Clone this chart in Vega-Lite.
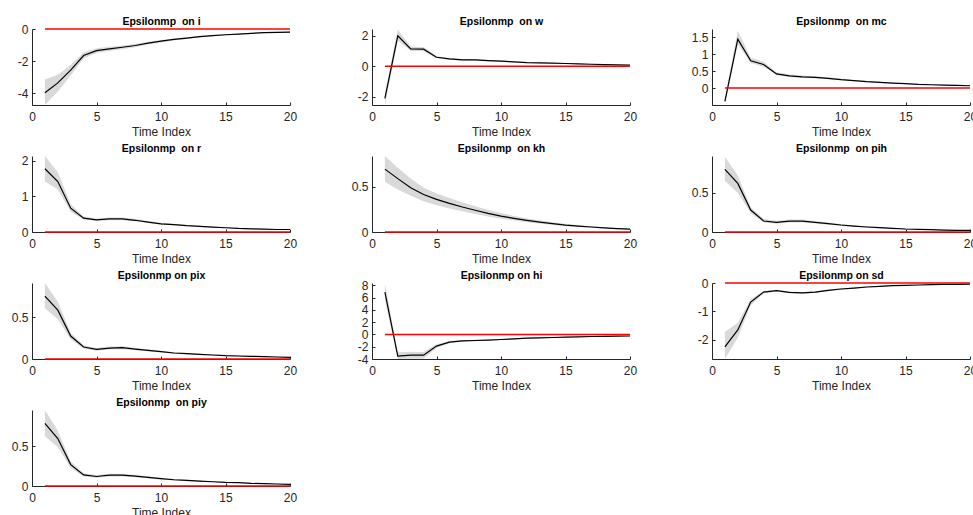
{
  "$schema": "https://vega.github.io/schema/vega-lite/v6.json",
  "padding": {"left": 11, "top": 16, "right": 0, "bottom": 0},
  "background": "white",
  "datasets": {
    "i": [
      {"t": 1, "m": -3.98, "lo": -4.75, "hi": -3.15}, {"t": 2, "m": -3.37, "lo": -3.9, "hi": -2.86},
      {"t": 3, "m": -2.57, "lo": -2.9, "hi": -2.25}, {"t": 4, "m": -1.66, "lo": -1.85, "hi": -1.45},
      {"t": 5, "m": -1.35, "lo": -1.5, "hi": -1.2}, {"t": 6, "m": -1.24, "lo": -1.37, "hi": -1.11},
      {"t": 7, "m": -1.14, "lo": -1.26, "hi": -1.03}, {"t": 8, "m": -1.03, "lo": -1.14, "hi": -0.93},
      {"t": 9, "m": -0.88, "lo": -0.97, "hi": -0.8}, {"t": 10, "m": -0.76, "lo": -0.84, "hi": -0.69},
      {"t": 11, "m": -0.65, "lo": -0.72, "hi": -0.59}, {"t": 12, "m": -0.57, "lo": -0.63, "hi": -0.52},
      {"t": 13, "m": -0.48, "lo": -0.53, "hi": -0.44}, {"t": 14, "m": -0.42, "lo": -0.46, "hi": -0.38},
      {"t": 15, "m": -0.36, "lo": -0.4, "hi": -0.33}, {"t": 16, "m": -0.32, "lo": -0.35, "hi": -0.29},
      {"t": 17, "m": -0.27, "lo": -0.3, "hi": -0.25}, {"t": 18, "m": -0.23, "lo": -0.25, "hi": -0.21},
      {"t": 19, "m": -0.21, "lo": -0.23, "hi": -0.19}, {"t": 20, "m": -0.19, "lo": -0.21, "hi": -0.17}
    ],
    "w": [
      {"t": 1, "m": -2.11, "lo": -2.55, "hi": -1.8}, {"t": 2, "m": 2.0, "lo": 1.7, "hi": 2.42},
      {"t": 3, "m": 1.14, "lo": 1.0, "hi": 1.3}, {"t": 4, "m": 1.12, "lo": 0.98, "hi": 1.27},
      {"t": 5, "m": 0.59, "lo": 0.52, "hi": 0.67}, {"t": 6, "m": 0.48, "lo": 0.43, "hi": 0.54},
      {"t": 7, "m": 0.42, "lo": 0.37, "hi": 0.47}, {"t": 8, "m": 0.42, "lo": 0.37, "hi": 0.47},
      {"t": 9, "m": 0.37, "lo": 0.33, "hi": 0.41}, {"t": 10, "m": 0.33, "lo": 0.29, "hi": 0.37},
      {"t": 11, "m": 0.29, "lo": 0.26, "hi": 0.32}, {"t": 12, "m": 0.24, "lo": 0.21, "hi": 0.27},
      {"t": 13, "m": 0.22, "lo": 0.2, "hi": 0.24}, {"t": 14, "m": 0.2, "lo": 0.18, "hi": 0.22},
      {"t": 15, "m": 0.18, "lo": 0.16, "hi": 0.2}, {"t": 16, "m": 0.15, "lo": 0.13, "hi": 0.17},
      {"t": 17, "m": 0.13, "lo": 0.115, "hi": 0.145}, {"t": 18, "m": 0.11, "lo": 0.1, "hi": 0.12},
      {"t": 19, "m": 0.09, "lo": 0.08, "hi": 0.1}, {"t": 20, "m": 0.07, "lo": 0.06, "hi": 0.08}
    ],
    "mc": [
      {"t": 1, "m": -0.39, "lo": -0.5, "hi": -0.3}, {"t": 2, "m": 1.45, "lo": 1.3, "hi": 1.7},
      {"t": 3, "m": 0.81, "lo": 0.74, "hi": 0.9}, {"t": 4, "m": 0.7, "lo": 0.63, "hi": 0.78},
      {"t": 5, "m": 0.42, "lo": 0.38, "hi": 0.47}, {"t": 6, "m": 0.36, "lo": 0.33, "hi": 0.4},
      {"t": 7, "m": 0.33, "lo": 0.3, "hi": 0.37}, {"t": 8, "m": 0.32, "lo": 0.29, "hi": 0.35},
      {"t": 9, "m": 0.29, "lo": 0.26, "hi": 0.32}, {"t": 10, "m": 0.25, "lo": 0.23, "hi": 0.28},
      {"t": 11, "m": 0.22, "lo": 0.2, "hi": 0.24}, {"t": 12, "m": 0.19, "lo": 0.17, "hi": 0.21},
      {"t": 13, "m": 0.17, "lo": 0.155, "hi": 0.185}, {"t": 14, "m": 0.15, "lo": 0.14, "hi": 0.165},
      {"t": 15, "m": 0.13, "lo": 0.12, "hi": 0.14}, {"t": 16, "m": 0.11, "lo": 0.1, "hi": 0.12},
      {"t": 17, "m": 0.1, "lo": 0.09, "hi": 0.11}, {"t": 18, "m": 0.09, "lo": 0.08, "hi": 0.1},
      {"t": 19, "m": 0.08, "lo": 0.072, "hi": 0.088}, {"t": 20, "m": 0.07, "lo": 0.063, "hi": 0.077}
    ],
    "r": [
      {"t": 1, "m": 1.78, "lo": 1.42, "hi": 2.14}, {"t": 2, "m": 1.42, "lo": 1.2, "hi": 1.68},
      {"t": 3, "m": 0.67, "lo": 0.57, "hi": 0.78}, {"t": 4, "m": 0.39, "lo": 0.35, "hi": 0.44},
      {"t": 5, "m": 0.34, "lo": 0.31, "hi": 0.38}, {"t": 6, "m": 0.37, "lo": 0.33, "hi": 0.41},
      {"t": 7, "m": 0.37, "lo": 0.33, "hi": 0.41}, {"t": 8, "m": 0.33, "lo": 0.3, "hi": 0.37},
      {"t": 9, "m": 0.28, "lo": 0.25, "hi": 0.31}, {"t": 10, "m": 0.23, "lo": 0.21, "hi": 0.26},
      {"t": 11, "m": 0.21, "lo": 0.19, "hi": 0.23}, {"t": 12, "m": 0.18, "lo": 0.165, "hi": 0.2},
      {"t": 13, "m": 0.16, "lo": 0.145, "hi": 0.175}, {"t": 14, "m": 0.14, "lo": 0.13, "hi": 0.155},
      {"t": 15, "m": 0.12, "lo": 0.11, "hi": 0.13}, {"t": 16, "m": 0.1, "lo": 0.09, "hi": 0.11},
      {"t": 17, "m": 0.09, "lo": 0.082, "hi": 0.1}, {"t": 18, "m": 0.08, "lo": 0.073, "hi": 0.088},
      {"t": 19, "m": 0.07, "lo": 0.064, "hi": 0.077}, {"t": 20, "m": 0.07, "lo": 0.063, "hi": 0.077}
    ],
    "kh": [
      {"t": 1, "m": 0.695, "lo": 0.555, "hi": 0.84}, {"t": 2, "m": 0.59, "lo": 0.47, "hi": 0.71},
      {"t": 3, "m": 0.49, "lo": 0.4, "hi": 0.59}, {"t": 4, "m": 0.415, "lo": 0.34, "hi": 0.49},
      {"t": 5, "m": 0.36, "lo": 0.295, "hi": 0.425}, {"t": 6, "m": 0.316, "lo": 0.26, "hi": 0.375},
      {"t": 7, "m": 0.276, "lo": 0.228, "hi": 0.328}, {"t": 8, "m": 0.24, "lo": 0.2, "hi": 0.285},
      {"t": 9, "m": 0.206, "lo": 0.172, "hi": 0.245}, {"t": 10, "m": 0.176, "lo": 0.147, "hi": 0.21},
      {"t": 11, "m": 0.151, "lo": 0.127, "hi": 0.178}, {"t": 12, "m": 0.129, "lo": 0.108, "hi": 0.152},
      {"t": 13, "m": 0.11, "lo": 0.093, "hi": 0.129}, {"t": 14, "m": 0.092, "lo": 0.078, "hi": 0.108},
      {"t": 15, "m": 0.077, "lo": 0.065, "hi": 0.09}, {"t": 16, "m": 0.066, "lo": 0.056, "hi": 0.077},
      {"t": 17, "m": 0.055, "lo": 0.047, "hi": 0.064}, {"t": 18, "m": 0.046, "lo": 0.039, "hi": 0.053},
      {"t": 19, "m": 0.038, "lo": 0.032, "hi": 0.044}, {"t": 20, "m": 0.032, "lo": 0.027, "hi": 0.037}
    ],
    "pih": [
      {"t": 1, "m": 0.8, "lo": 0.65, "hi": 0.96}, {"t": 2, "m": 0.62, "lo": 0.5, "hi": 0.72},
      {"t": 3, "m": 0.28, "lo": 0.24, "hi": 0.32}, {"t": 4, "m": 0.14, "lo": 0.12, "hi": 0.165},
      {"t": 5, "m": 0.123, "lo": 0.105, "hi": 0.142}, {"t": 6, "m": 0.14, "lo": 0.122, "hi": 0.158},
      {"t": 7, "m": 0.14, "lo": 0.122, "hi": 0.158}, {"t": 8, "m": 0.123, "lo": 0.107, "hi": 0.139},
      {"t": 9, "m": 0.106, "lo": 0.092, "hi": 0.12}, {"t": 10, "m": 0.089, "lo": 0.077, "hi": 0.101},
      {"t": 11, "m": 0.076, "lo": 0.066, "hi": 0.086}, {"t": 12, "m": 0.064, "lo": 0.056, "hi": 0.073},
      {"t": 13, "m": 0.055, "lo": 0.048, "hi": 0.063}, {"t": 14, "m": 0.047, "lo": 0.041, "hi": 0.054},
      {"t": 15, "m": 0.038, "lo": 0.033, "hi": 0.044}, {"t": 16, "m": 0.034, "lo": 0.03, "hi": 0.039},
      {"t": 17, "m": 0.03, "lo": 0.026, "hi": 0.034}, {"t": 18, "m": 0.025, "lo": 0.022, "hi": 0.029},
      {"t": 19, "m": 0.021, "lo": 0.018, "hi": 0.024}, {"t": 20, "m": 0.02, "lo": 0.017, "hi": 0.023}
    ],
    "pix": [
      {"t": 1, "m": 0.756, "lo": 0.61, "hi": 0.915}, {"t": 2, "m": 0.588, "lo": 0.48, "hi": 0.69},
      {"t": 3, "m": 0.276, "lo": 0.235, "hi": 0.315}, {"t": 4, "m": 0.144, "lo": 0.125, "hi": 0.165},
      {"t": 5, "m": 0.116, "lo": 0.1, "hi": 0.133}, {"t": 6, "m": 0.132, "lo": 0.115, "hi": 0.15},
      {"t": 7, "m": 0.136, "lo": 0.118, "hi": 0.154}, {"t": 8, "m": 0.12, "lo": 0.105, "hi": 0.136},
      {"t": 9, "m": 0.104, "lo": 0.091, "hi": 0.118}, {"t": 10, "m": 0.088, "lo": 0.077, "hi": 0.1},
      {"t": 11, "m": 0.072, "lo": 0.063, "hi": 0.082}, {"t": 12, "m": 0.064, "lo": 0.056, "hi": 0.073},
      {"t": 13, "m": 0.056, "lo": 0.049, "hi": 0.064}, {"t": 14, "m": 0.048, "lo": 0.042, "hi": 0.055},
      {"t": 15, "m": 0.04, "lo": 0.035, "hi": 0.046}, {"t": 16, "m": 0.036, "lo": 0.031, "hi": 0.041},
      {"t": 17, "m": 0.032, "lo": 0.028, "hi": 0.037}, {"t": 18, "m": 0.028, "lo": 0.024, "hi": 0.032},
      {"t": 19, "m": 0.024, "lo": 0.021, "hi": 0.028}, {"t": 20, "m": 0.02, "lo": 0.017, "hi": 0.023}
    ],
    "hi": [
      {"t": 1, "m": 6.9, "lo": 5.6, "hi": 8.37}, {"t": 2, "m": -3.53, "lo": -4.0, "hi": -2.9},
      {"t": 3, "m": -3.37, "lo": -3.95, "hi": -2.8}, {"t": 4, "m": -3.37, "lo": -3.9, "hi": -2.85},
      {"t": 5, "m": -1.9, "lo": -2.2, "hi": -1.6}, {"t": 6, "m": -1.25, "lo": -1.45, "hi": -1.07},
      {"t": 7, "m": -1.03, "lo": -1.18, "hi": -0.9}, {"t": 8, "m": -0.98, "lo": -1.1, "hi": -0.87},
      {"t": 9, "m": -0.92, "lo": -1.03, "hi": -0.82}, {"t": 10, "m": -0.82, "lo": -0.92, "hi": -0.73},
      {"t": 11, "m": -0.71, "lo": -0.8, "hi": -0.63}, {"t": 12, "m": -0.6, "lo": -0.68, "hi": -0.53},
      {"t": 13, "m": -0.54, "lo": -0.61, "hi": -0.48}, {"t": 14, "m": -0.49, "lo": -0.55, "hi": -0.43},
      {"t": 15, "m": -0.43, "lo": -0.48, "hi": -0.38}, {"t": 16, "m": -0.38, "lo": -0.43, "hi": -0.34},
      {"t": 17, "m": -0.33, "lo": -0.37, "hi": -0.29}, {"t": 18, "m": -0.3, "lo": -0.34, "hi": -0.27},
      {"t": 19, "m": -0.27, "lo": -0.3, "hi": -0.24}, {"t": 20, "m": -0.25, "lo": -0.28, "hi": -0.22}
    ],
    "sd": [
      {"t": 1, "m": -2.24, "lo": -2.67, "hi": -1.72}, {"t": 2, "m": -1.65, "lo": -1.92, "hi": -1.4},
      {"t": 3, "m": -0.67, "lo": -0.78, "hi": -0.57}, {"t": 4, "m": -0.32, "lo": -0.36, "hi": -0.28},
      {"t": 5, "m": -0.27, "lo": -0.3, "hi": -0.24}, {"t": 6, "m": -0.33, "lo": -0.36, "hi": -0.3},
      {"t": 7, "m": -0.35, "lo": -0.38, "hi": -0.32}, {"t": 8, "m": -0.32, "lo": -0.35, "hi": -0.29},
      {"t": 9, "m": -0.26, "lo": -0.29, "hi": -0.23}, {"t": 10, "m": -0.21, "lo": -0.235, "hi": -0.185},
      {"t": 11, "m": -0.18, "lo": -0.2, "hi": -0.16}, {"t": 12, "m": -0.14, "lo": -0.16, "hi": -0.125},
      {"t": 13, "m": -0.12, "lo": -0.135, "hi": -0.105}, {"t": 14, "m": -0.09, "lo": -0.1, "hi": -0.08},
      {"t": 15, "m": -0.08, "lo": -0.09, "hi": -0.07}, {"t": 16, "m": -0.07, "lo": -0.08, "hi": -0.062},
      {"t": 17, "m": -0.06, "lo": -0.068, "hi": -0.053}, {"t": 18, "m": -0.05, "lo": -0.057, "hi": -0.044},
      {"t": 19, "m": -0.045, "lo": -0.051, "hi": -0.039}, {"t": 20, "m": -0.04, "lo": -0.046, "hi": -0.035}
    ],
    "piy": [
      {"t": 1, "m": 0.79, "lo": 0.63, "hi": 0.96}, {"t": 2, "m": 0.6, "lo": 0.49, "hi": 0.7},
      {"t": 3, "m": 0.27, "lo": 0.23, "hi": 0.31}, {"t": 4, "m": 0.14, "lo": 0.12, "hi": 0.162},
      {"t": 5, "m": 0.12, "lo": 0.103, "hi": 0.138}, {"t": 6, "m": 0.137, "lo": 0.12, "hi": 0.155},
      {"t": 7, "m": 0.137, "lo": 0.12, "hi": 0.155}, {"t": 8, "m": 0.125, "lo": 0.109, "hi": 0.141},
      {"t": 9, "m": 0.108, "lo": 0.094, "hi": 0.122}, {"t": 10, "m": 0.092, "lo": 0.08, "hi": 0.104},
      {"t": 11, "m": 0.079, "lo": 0.069, "hi": 0.089}, {"t": 12, "m": 0.07, "lo": 0.061, "hi": 0.079},
      {"t": 13, "m": 0.062, "lo": 0.054, "hi": 0.07}, {"t": 14, "m": 0.054, "lo": 0.047, "hi": 0.061},
      {"t": 15, "m": 0.046, "lo": 0.04, "hi": 0.052}, {"t": 16, "m": 0.042, "lo": 0.037, "hi": 0.047},
      {"t": 17, "m": 0.033, "lo": 0.029, "hi": 0.037}, {"t": 18, "m": 0.029, "lo": 0.025, "hi": 0.033},
      {"t": 19, "m": 0.025, "lo": 0.022, "hi": 0.028}, {"t": 20, "m": 0.02, "lo": 0.017, "hi": 0.023}
    ]
  },
  "columns": 3,
  "spacing": {"row": 51, "column": 82},
  "bounds": "flush",
  "concat": [
    {
      "data": {"name": "i"}, "width": 258, "height": 76,
      "resolve": {"axis": {"x": "independent"}},
      "layer": [
        {"mark": {"type": "area", "color": "#d9d9d9"}, "encoding": {
          "x": {"field": "t", "type": "quantitative", "title": "Time Index", "scale": {"domain": [0, 20], "nice": false}, "axis": {"orient": "bottom", "values": [0, 5, 10, 15, 20]}},
          "y": {"field": "lo", "type": "quantitative", "title": null, "scale": {"domain": [-4.75, 0], "nice": false, "zero": false}, "axis": {"values": [-4, -2, 0]}}, "y2": {"field": "hi"}}},
        {"mark": {"type": "line", "color": "black", "strokeWidth": 1.2}, "encoding": {
          "x": {"field": "t", "type": "quantitative", "title": "Epsilonmp\u00a0 on i", "axis": {"orient": "top", "domain": false, "ticks": false, "labels": false, "titleFontSize": 10.5, "titleFontWeight": "bold", "titleColor": "black", "titlePadding": 3}},
          "y": {"field": "m", "type": "quantitative", "title": null}}},
        {"mark": {"type": "line", "color": "#ff0000", "strokeWidth": 1.5}, "encoding": {
          "x": {"field": "t", "type": "quantitative", "axis": null},
          "y": {"datum": 0, "title": null}}}
      ]
    },
    {
      "data": {"name": "w"}, "width": 258, "height": 76,
      "resolve": {"axis": {"x": "independent"}},
      "layer": [
        {"mark": {"type": "area", "color": "#d9d9d9"}, "encoding": {
          "x": {"field": "t", "type": "quantitative", "title": "Time Index", "scale": {"domain": [0, 20], "nice": false}, "axis": {"orient": "bottom", "values": [0, 5, 10, 15, 20]}},
          "y": {"field": "lo", "type": "quantitative", "title": null, "scale": {"domain": [-2.55, 2.45], "nice": false, "zero": false}, "axis": {"values": [-2, 0, 2]}}, "y2": {"field": "hi"}}},
        {"mark": {"type": "line", "color": "black", "strokeWidth": 1.2}, "encoding": {
          "x": {"field": "t", "type": "quantitative", "title": "Epsilonmp\u00a0 on w", "axis": {"orient": "top", "domain": false, "ticks": false, "labels": false, "titleFontSize": 10.5, "titleFontWeight": "bold", "titleColor": "black", "titlePadding": 3}},
          "y": {"field": "m", "type": "quantitative", "title": null}}},
        {"mark": {"type": "line", "color": "#ff0000", "strokeWidth": 1.5}, "encoding": {
          "x": {"field": "t", "type": "quantitative", "axis": null},
          "y": {"datum": 0, "title": null}}}
      ]
    },
    {
      "data": {"name": "mc"}, "width": 258, "height": 76,
      "resolve": {"axis": {"x": "independent"}},
      "layer": [
        {"mark": {"type": "area", "color": "#d9d9d9"}, "encoding": {
          "x": {"field": "t", "type": "quantitative", "title": "Time Index", "scale": {"domain": [0, 20], "nice": false}, "axis": {"orient": "bottom", "values": [0, 5, 10, 15, 20]}},
          "y": {"field": "lo", "type": "quantitative", "title": null, "scale": {"domain": [-0.5, 1.75], "nice": false, "zero": false}, "axis": {"values": [0, 0.5, 1, 1.5]}}, "y2": {"field": "hi"}}},
        {"mark": {"type": "line", "color": "black", "strokeWidth": 1.2}, "encoding": {
          "x": {"field": "t", "type": "quantitative", "title": "Epsilonmp\u00a0 on mc", "axis": {"orient": "top", "domain": false, "ticks": false, "labels": false, "titleFontSize": 10.5, "titleFontWeight": "bold", "titleColor": "black", "titlePadding": 3}},
          "y": {"field": "m", "type": "quantitative", "title": null}}},
        {"mark": {"type": "line", "color": "#ff0000", "strokeWidth": 1.5}, "encoding": {
          "x": {"field": "t", "type": "quantitative", "axis": null},
          "y": {"datum": 0, "title": null}}}
      ]
    },
    {
      "data": {"name": "r"}, "width": 258, "height": 76,
      "resolve": {"axis": {"x": "independent"}},
      "layer": [
        {"mark": {"type": "area", "color": "#d9d9d9"}, "encoding": {
          "x": {"field": "t", "type": "quantitative", "title": "Time Index", "scale": {"domain": [0, 20], "nice": false}, "axis": {"orient": "bottom", "values": [0, 5, 10, 15, 20]}},
          "y": {"field": "lo", "type": "quantitative", "title": null, "scale": {"domain": [0, 2.14], "nice": false, "zero": false}, "axis": {"values": [0, 1, 2]}}, "y2": {"field": "hi"}}},
        {"mark": {"type": "line", "color": "black", "strokeWidth": 1.2}, "encoding": {
          "x": {"field": "t", "type": "quantitative", "title": "Epsilonmp\u00a0 on r", "axis": {"orient": "top", "domain": false, "ticks": false, "labels": false, "titleFontSize": 10.5, "titleFontWeight": "bold", "titleColor": "black", "titlePadding": 3}},
          "y": {"field": "m", "type": "quantitative", "title": null}}},
        {"mark": {"type": "line", "color": "#ff0000", "strokeWidth": 1.5}, "encoding": {
          "x": {"field": "t", "type": "quantitative", "axis": null},
          "y": {"datum": 0, "title": null}}}
      ]
    },
    {
      "data": {"name": "kh"}, "width": 258, "height": 76,
      "resolve": {"axis": {"x": "independent"}},
      "layer": [
        {"mark": {"type": "area", "color": "#d9d9d9"}, "encoding": {
          "x": {"field": "t", "type": "quantitative", "title": "Time Index", "scale": {"domain": [0, 20], "nice": false}, "axis": {"orient": "bottom", "values": [0, 5, 10, 15, 20]}},
          "y": {"field": "lo", "type": "quantitative", "title": null, "scale": {"domain": [0, 0.84], "nice": false, "zero": false}, "axis": {"values": [0, 0.5]}}, "y2": {"field": "hi"}}},
        {"mark": {"type": "line", "color": "black", "strokeWidth": 1.2}, "encoding": {
          "x": {"field": "t", "type": "quantitative", "title": "Epsilonmp\u00a0 on kh", "axis": {"orient": "top", "domain": false, "ticks": false, "labels": false, "titleFontSize": 10.5, "titleFontWeight": "bold", "titleColor": "black", "titlePadding": 3}},
          "y": {"field": "m", "type": "quantitative", "title": null}}},
        {"mark": {"type": "line", "color": "#ff0000", "strokeWidth": 1.5}, "encoding": {
          "x": {"field": "t", "type": "quantitative", "axis": null},
          "y": {"datum": 0, "title": null}}}
      ]
    },
    {
      "data": {"name": "pih"}, "width": 258, "height": 76,
      "resolve": {"axis": {"x": "independent"}},
      "layer": [
        {"mark": {"type": "area", "color": "#d9d9d9"}, "encoding": {
          "x": {"field": "t", "type": "quantitative", "title": "Time Index", "scale": {"domain": [0, 20], "nice": false}, "axis": {"orient": "bottom", "values": [0, 5, 10, 15, 20]}},
          "y": {"field": "lo", "type": "quantitative", "title": null, "scale": {"domain": [0, 0.97], "nice": false, "zero": false}, "axis": {"values": [0, 0.5]}}, "y2": {"field": "hi"}}},
        {"mark": {"type": "line", "color": "black", "strokeWidth": 1.2}, "encoding": {
          "x": {"field": "t", "type": "quantitative", "title": "Epsilonmp\u00a0 on pih", "axis": {"orient": "top", "domain": false, "ticks": false, "labels": false, "titleFontSize": 10.5, "titleFontWeight": "bold", "titleColor": "black", "titlePadding": 3}},
          "y": {"field": "m", "type": "quantitative", "title": null}}},
        {"mark": {"type": "line", "color": "#ff0000", "strokeWidth": 1.5}, "encoding": {
          "x": {"field": "t", "type": "quantitative", "axis": null},
          "y": {"datum": 0, "title": null}}}
      ]
    },
    {
      "data": {"name": "pix"}, "width": 258, "height": 76,
      "resolve": {"axis": {"x": "independent"}},
      "layer": [
        {"mark": {"type": "area", "color": "#d9d9d9"}, "encoding": {
          "x": {"field": "t", "type": "quantitative", "title": "Time Index", "scale": {"domain": [0, 20], "nice": false}, "axis": {"orient": "bottom", "values": [0, 5, 10, 15, 20]}},
          "y": {"field": "lo", "type": "quantitative", "title": null, "scale": {"domain": [0, 0.915], "nice": false, "zero": false}, "axis": {"values": [0, 0.5]}}, "y2": {"field": "hi"}}},
        {"mark": {"type": "line", "color": "black", "strokeWidth": 1.2}, "encoding": {
          "x": {"field": "t", "type": "quantitative", "title": "Epsilonmp on pix", "axis": {"orient": "top", "domain": false, "ticks": false, "labels": false, "titleFontSize": 10.5, "titleFontWeight": "bold", "titleColor": "black", "titlePadding": 3}},
          "y": {"field": "m", "type": "quantitative", "title": null}}},
        {"mark": {"type": "line", "color": "#ff0000", "strokeWidth": 1.5}, "encoding": {
          "x": {"field": "t", "type": "quantitative", "axis": null},
          "y": {"datum": 0, "title": null}}}
      ]
    },
    {
      "data": {"name": "hi"}, "width": 258, "height": 76,
      "resolve": {"axis": {"x": "independent"}},
      "layer": [
        {"mark": {"type": "area", "color": "#d9d9d9"}, "encoding": {
          "x": {"field": "t", "type": "quantitative", "title": "Time Index", "scale": {"domain": [0, 20], "nice": false}, "axis": {"orient": "bottom", "values": [0, 5, 10, 15, 20]}},
          "y": {"field": "lo", "type": "quantitative", "title": null, "scale": {"domain": [-4, 8.4], "nice": false, "zero": false}, "axis": {"values": [-4, -2, 0, 2, 4, 6, 8]}}, "y2": {"field": "hi"}}},
        {"mark": {"type": "line", "color": "black", "strokeWidth": 1.2}, "encoding": {
          "x": {"field": "t", "type": "quantitative", "title": "Epsilonmp on hi", "axis": {"orient": "top", "domain": false, "ticks": false, "labels": false, "titleFontSize": 10.5, "titleFontWeight": "bold", "titleColor": "black", "titlePadding": 3}},
          "y": {"field": "m", "type": "quantitative", "title": null}}},
        {"mark": {"type": "line", "color": "#ff0000", "strokeWidth": 1.5}, "encoding": {
          "x": {"field": "t", "type": "quantitative", "axis": null},
          "y": {"datum": 0, "title": null}}}
      ]
    },
    {
      "data": {"name": "sd"}, "width": 258, "height": 76,
      "resolve": {"axis": {"x": "independent"}},
      "layer": [
        {"mark": {"type": "area", "color": "#d9d9d9"}, "encoding": {
          "x": {"field": "t", "type": "quantitative", "title": "Time Index", "scale": {"domain": [0, 20], "nice": false}, "axis": {"orient": "bottom", "values": [0, 5, 10, 15, 20]}},
          "y": {"field": "lo", "type": "quantitative", "title": null, "scale": {"domain": [-2.67, 0], "nice": false, "zero": false}, "axis": {"values": [-2, -1, 0]}}, "y2": {"field": "hi"}}},
        {"mark": {"type": "line", "color": "black", "strokeWidth": 1.2}, "encoding": {
          "x": {"field": "t", "type": "quantitative", "title": "Epsilonmp on sd", "axis": {"orient": "top", "domain": false, "ticks": false, "labels": false, "titleFontSize": 10.5, "titleFontWeight": "bold", "titleColor": "black", "titlePadding": 3}},
          "y": {"field": "m", "type": "quantitative", "title": null}}},
        {"mark": {"type": "line", "color": "#ff0000", "strokeWidth": 1.5}, "encoding": {
          "x": {"field": "t", "type": "quantitative", "axis": null},
          "y": {"datum": 0, "title": null}}}
      ]
    },
    {
      "data": {"name": "piy"}, "width": 258, "height": 76,
      "resolve": {"axis": {"x": "independent"}},
      "layer": [
        {"mark": {"type": "area", "color": "#d9d9d9"}, "encoding": {
          "x": {"field": "t", "type": "quantitative", "title": "Time Index", "scale": {"domain": [0, 20], "nice": false}, "axis": {"orient": "bottom", "values": [0, 5, 10, 15, 20]}},
          "y": {"field": "lo", "type": "quantitative", "title": null, "scale": {"domain": [0, 0.96], "nice": false, "zero": false}, "axis": {"values": [0, 0.5]}}, "y2": {"field": "hi"}}},
        {"mark": {"type": "line", "color": "black", "strokeWidth": 1.2}, "encoding": {
          "x": {"field": "t", "type": "quantitative", "title": "Epsilonmp\u00a0 on piy", "axis": {"orient": "top", "domain": false, "ticks": false, "labels": false, "titleFontSize": 10.5, "titleFontWeight": "bold", "titleColor": "black", "titlePadding": 3}},
          "y": {"field": "m", "type": "quantitative", "title": null}}},
        {"mark": {"type": "line", "color": "#ff0000", "strokeWidth": 1.5}, "encoding": {
          "x": {"field": "t", "type": "quantitative", "axis": null},
          "y": {"datum": 0, "title": null}}}
      ]
    }
  ],
  "config": {
    "font": "Liberation Sans",
    "view": {"stroke": null},
    "axis": {
      "grid": false,
      "domainColor": "#262626",
      "domainWidth": 1,
      "tickColor": "#262626",
      "tickSize": -3,
      "tickCount": 20,
      "labelColor": "#262626",
      "labelFontSize": 12,
      "labelPadding": 7,
      "labelOverlap": false,
      "labelFlush": false,
      "labelExpr": "'' + datum.value",
      "titleColor": "#262626",
      "titleFontSize": 12,
      "titleFontWeight": "normal",
      "titlePadding": 4
    },
    "axisX": {"labelPadding": 9}
  }
}
